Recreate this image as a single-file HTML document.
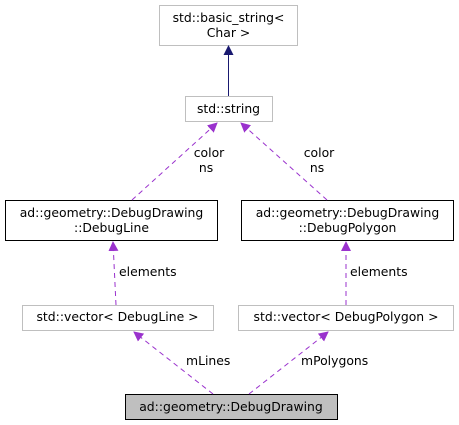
<!DOCTYPE html>
<html><head><meta charset="utf-8"><style>html,body{margin:0;padding:0;background:#fff}svg{display:block}</style></head><body>
<svg width="459" height="425" xmlns="http://www.w3.org/2000/svg" font-family="DejaVu Sans, Liberation Sans, sans-serif" font-size="12.4">
<defs>
<marker id="p" markerWidth="10" markerHeight="10" refX="9" refY="5" orient="auto" markerUnits="userSpaceOnUse"><path d="M0,0 L10,5 L0,10 z" fill="#9a32cd"/></marker>
<marker id="b" markerWidth="10" markerHeight="10" refX="9" refY="5" orient="auto" markerUnits="userSpaceOnUse"><path d="M0,0 L10,5 L0,10 z" fill="#191970"/></marker>
</defs>
<g fill="#fff" stroke="#bfbfbf">
<rect x="159.5" y="5.5" width="138" height="40"/>
<rect x="185.5" y="96.5" width="87" height="25"/>
<rect x="22.5" y="305.5" width="191" height="25"/>
<rect x="238.5" y="305.5" width="215" height="25"/>
</g>
<g fill="#fff" stroke="#000">
<rect x="5.5" y="200.5" width="212" height="40"/>
<rect x="241.5" y="200.5" width="212" height="40"/>
</g>
<rect x="125.5" y="394.5" width="212" height="25" fill="#bfbfbf" stroke="#000"/>
<line x1="228.5" y1="96" x2="228.5" y2="46" stroke="#191970" marker-end="url(#b)"/>
<g stroke="#9a32cd" stroke-dasharray="5,4" fill="none">
<line x1="132" y1="200" x2="217" y2="123" marker-end="url(#p)"/>
<line x1="327" y1="200" x2="241" y2="123" marker-end="url(#p)"/>
<line x1="116" y1="305" x2="113" y2="242" marker-end="url(#p)"/>
<line x1="346" y1="305" x2="346" y2="242" marker-end="url(#p)"/>
<line x1="213" y1="394" x2="134" y2="332" marker-end="url(#p)"/>
<line x1="249" y1="394" x2="328" y2="332" marker-end="url(#p)"/>
</g>
<g fill="#000" text-anchor="middle">
<text x="228.5" y="22">std::basic_string&lt;</text>
<text x="228.5" y="37">Char &gt;</text>
<text x="228.5" y="113">std::string</text>
<text x="111.5" y="217">ad::geometry::DebugDrawing</text>
<text x="111.5" y="232">::DebugLine</text>
<text x="347.5" y="217">ad::geometry::DebugDrawing</text>
<text x="347.5" y="232">::DebugPolygon</text>
<text x="117.5" y="321">std::vector&lt; DebugLine &gt;</text>
<text x="346" y="321">std::vector&lt; DebugPolygon &gt;</text>
<text x="231" y="411">ad::geometry::DebugDrawing</text>
<text x="209" y="157">color</text>
<text x="206" y="172">ns</text>
<text x="319" y="157">color</text>
<text x="317" y="172">ns</text>
</g>
<g fill="#000">
<text x="119" y="276">elements</text>
<text x="350" y="276">elements</text>
<text x="186" y="365">mLines</text>
<text x="301" y="365">mPolygons</text>
</g>
</svg>
</body></html>
